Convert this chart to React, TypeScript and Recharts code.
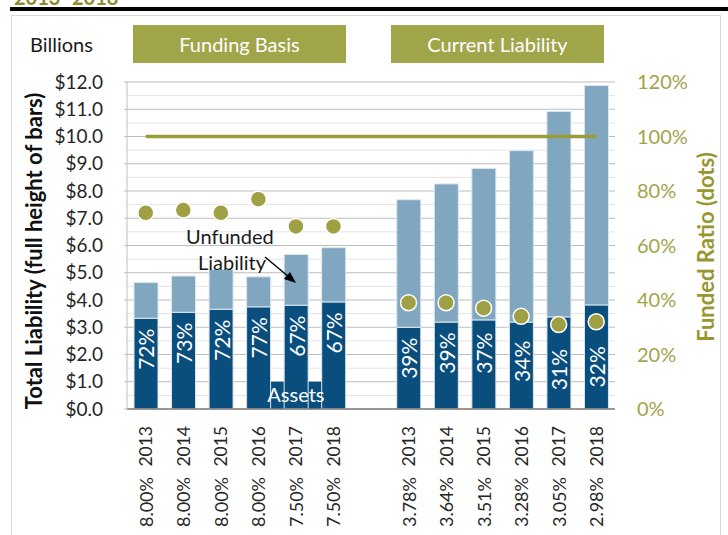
import React from "react";
import {
  ComposedChart,
  Bar,
  Line,
  XAxis,
  YAxis,
  CartesianGrid,
  ReferenceArea,
  LabelList,
} from "recharts";

// funding basis (left group) and current liability (right group), $ billions
const years = ["2013", "2014", "2015", "2016", "2017", "2018"];
const fundingRates = ["8.00%", "8.00%", "8.00%", "8.00%", "7.50%", "7.50%"];
const fundingTotal = [4.64, 4.88, 5.12, 4.85, 5.67, 5.92];
const fundingAssets = [3.33, 3.55, 3.66, 3.75, 3.81, 3.93];
const fundingRatio = [72, 73, 72, 77, 67, 67];

const currentRates = ["3.78%", "3.64%", "3.51%", "3.28%", "3.05%", "2.98%"];
const currentTotal = [7.68, 8.26, 8.83, 9.48, 10.92, 11.87];
const currentAssets = [3.0, 3.19, 3.27, 3.19, 3.38, 3.82];
const currentRatio = [39, 39, 37, 34, 31, 32];

const fullFunding = 100;
const leftTicks = [0, 1, 2, 3, 4, 5, 6, 7, 8, 9, 10, 11, 12];
const halfTicks = [0.5, 1.5, 2.5, 3.5, 4.5, 5.5, 6.5, 7.5, 8.5, 9.5, 10.5, 11.5];
const rightTicks = [0, 20, 40, 60, 80, 100, 120];

const DARK = "#0A4E7D";
const LIGHT = "#80A6C0";
const OLIVE = "#9EA043";
const BOX = "#A1A54A";

type Row = {
  id: string;
  rate: string;
  year: string;
  assets: number | null;
  unfunded: number | null;
  ratio: number | null;
  full: number;
};

const makeRows = (prefix: string, rates: string[], total: number[], assets: number[], ratio: number[]): Row[] =>
  years.map((year, i) => ({
    id: `${prefix}-${year}`,
    rate: rates[i],
    year,
    assets: assets[i],
    unfunded: +(total[i] - assets[i]).toFixed(2),
    ratio: ratio[i],
    full: fullFunding,
  }));

const rows: Row[] = [
  ...makeRows("fb", fundingRates, fundingTotal, fundingAssets, fundingRatio),
  { id: "gap", rate: "", year: "", assets: null, unfunded: null, ratio: null, full: fullFunding },
  ...makeRows("cl", currentRates, currentTotal, currentAssets, currentRatio),
];

function CategoryTick(props: any) {
  const { x, y, payload } = props;
  const row = rows.find((r) => r.id === payload.value);
  if (!row || !row.year) return null;
  const y1 = y + 9;
  const y2 = y + 60;
  return (
    <g>
      <text x={x} y={y1} transform={`rotate(-90, ${x}, ${y1})`} textAnchor="end" dominantBaseline="central" fill="#262626" fontSize={17.5}>
        {row.year}
      </text>
      <text x={x} y={y2} transform={`rotate(-90, ${x}, ${y2})`} textAnchor="end" dominantBaseline="central" fill="#262626" fontSize={18}>
        {row.rate}
      </text>
    </g>
  );
}

// percent label inside the assets bar, kept below the dot when they would collide
function PctLabel(props: any) {
  const { x, y, width, height, value } = props;
  const row = rows.find((r) => r.id === value);
  if (!row || row.assets == null || row.ratio == null) return null;
  const bottom = Number(y) + Number(height);
  const pxPerUnit = Number(height) / row.assets;
  const dotY = bottom - (row.ratio / 10) * pxPerUnit;
  const cy = Math.max(Number(y) + 31, dotY + 45);
  const cx = Number(x) + Number(width) / 2;
  return (
    <text x={cx} y={cy} transform={`rotate(-90, ${cx}, ${cy})`} textAnchor="middle" dominantBaseline="central" fill="#fff" fontSize={21}>
      {row.ratio}%
    </text>
  );
}

function AssetsBox(props: any) {
  const { x, y, width, height } = props;
  const inset = 6.8;
  return <rect x={x + inset} y={y} width={width - inset * 2} height={height} fill={DARK} />;
}

export default function App() {
  return (
    <div
      style={{
        position: "absolute",
        left: 0,
        top: 0,
        width: 728,
        height: 535,
        overflow: "hidden",
        background: "#fff",
        fontFamily: "Lato, 'Open Sans', sans-serif",
      }}
    >
      <div style={{ position: "absolute", left: 14, top: -15, fontSize: 20, fontWeight: 700, color: "#8C8C2E" }}>2013–2018</div>
      <div style={{ position: "absolute", left: 10, top: 7, width: 718, height: 4, background: "#000" }} />
      <div
        style={{
          position: "absolute",
          left: 11,
          top: 15,
          width: 708,
          height: 540,
          border: "1.5px solid #d9d9d9",
        }}
      />

      <div style={{ position: "absolute", left: 30, top: 30, fontSize: 20, color: "#1a1a1a", lineHeight: "28px" }}>Billions</div>
      <div
        style={{
          position: "absolute",
          left: 133,
          top: 25,
          width: 213,
          height: 38,
          background: BOX,
          color: "#fff",
          fontSize: 20,
          lineHeight: "38px",
          textAlign: "center",
        }}
      >
        Funding Basis
      </div>
      <div
        style={{
          position: "absolute",
          left: 391,
          top: 25,
          width: 213,
          height: 38,
          background: BOX,
          color: "#fff",
          fontSize: 20,
          lineHeight: "38px",
          textAlign: "center",
        }}
      >
        Current Liability
      </div>

      <div style={{ position: "absolute", left: 0, top: 0 }}>
        <ComposedChart width={728} height={535} data={rows} margin={{ top: 82, right: 0, bottom: 0, left: 0 }}>
          <CartesianGrid vertical={false} horizontalValues={halfTicks} stroke="#e3e3e3" />
          <CartesianGrid vertical={false} horizontalValues={leftTicks} stroke="#bdbdbd" />
          <XAxis
            dataKey="id"
            interval={0}
            height={126}
            tickLine={false}
            axisLine={{ stroke: "#7f7f7f", strokeWidth: 1.5 }}
            tick={<CategoryTick />}
          />
          <YAxis
            domain={[0, 12]}
            ticks={leftTicks}
            interval={0}
            width={127}
            tickSize={3}
            tickMargin={21}
            tickFormatter={(v: number) => `$${v.toFixed(1)}`}
            tick={{ fill: "#262626", fontSize: 19 }}
            axisLine={{ stroke: "#bfbfbf" }}
            tickLine={{ stroke: "#bfbfbf" }}
            allowDataOverflow
          />
          <YAxis
            yAxisId="right"
            orientation="right"
            domain={[0, 120]}
            ticks={rightTicks}
            interval={0}
            width={113}
            tickSize={0}
            tickMargin={22}
            tickFormatter={(v: number) => `${v}%`}
            tick={{ fill: "#A3A34A", fontSize: 20, textAnchor: "start" }}
            axisLine={false}
            tickLine={false}
          />
          <Bar dataKey="assets" stackId="a" fill={DARK} barSize={24} stroke="#dbe6ee" strokeWidth={1} isAnimationActive={false}>
            <LabelList dataKey="id" content={<PctLabel />} />
          </Bar>
          <Bar dataKey="unfunded" stackId="a" fill={LIGHT} barSize={24} stroke="#dbe6ee" strokeWidth={1} isAnimationActive={false} />
          <ReferenceArea
            x1="fb-2016"
            x2="fb-2018"
            y1={0}
            y2={1}
            shape={<AssetsBox />}
            label={{ value: "Assets", position: "center", fill: "#fff", fontSize: 20 }}
          />
          <Line
            yAxisId="right"
            dataKey="full"
            stroke="#9A9C38"
            strokeWidth={3.5}
            dot={false}
            activeDot={false}
            isAnimationActive={false}
          />
          <Line
            yAxisId="right"
            dataKey="ratio"
            stroke="none"
            dot={{ r: 8, fill: OLIVE, stroke: "#fff", strokeWidth: 1.5 }}
            activeDot={false}
            isAnimationActive={false}
          />
        </ComposedChart>
      </div>

      <div style={{ position: "absolute", left: 186, top: 223, fontSize: 20, color: "#1a1a1a", lineHeight: "26px" }}>Unfunded</div>
      <div style={{ position: "absolute", left: 198, top: 249, fontSize: 20, color: "#1a1a1a", lineHeight: "26px" }}>Liability</div>
      <svg width={728} height={535} style={{ position: "absolute", left: 0, top: 0, pointerEvents: "none" }}>
        <line x1={265} y1={257} x2={289} y2={277} stroke="#000" strokeWidth={1.5} />
        <polygon points="296,283 284,279 290,272" fill="#000" />
      </svg>

      <div
        style={{
          position: "absolute",
          left: 33,
          top: 251,
          transform: "translate(-50%, -50%) rotate(-90deg)",
          whiteSpace: "nowrap",
          fontSize: 22,
          fontWeight: 700,
          color: "#111",
        }}
      >
        Total Liability (full height of bars)
      </div>
      <div
        style={{
          position: "absolute",
          left: 705,
          top: 247,
          transform: "translate(-50%, -50%) rotate(-90deg)",
          whiteSpace: "nowrap",
          fontSize: 22,
          fontWeight: 700,
          color: "#96982F",
        }}
      >
        Funded Ratio (dots)
      </div>
    </div>
  );
}
